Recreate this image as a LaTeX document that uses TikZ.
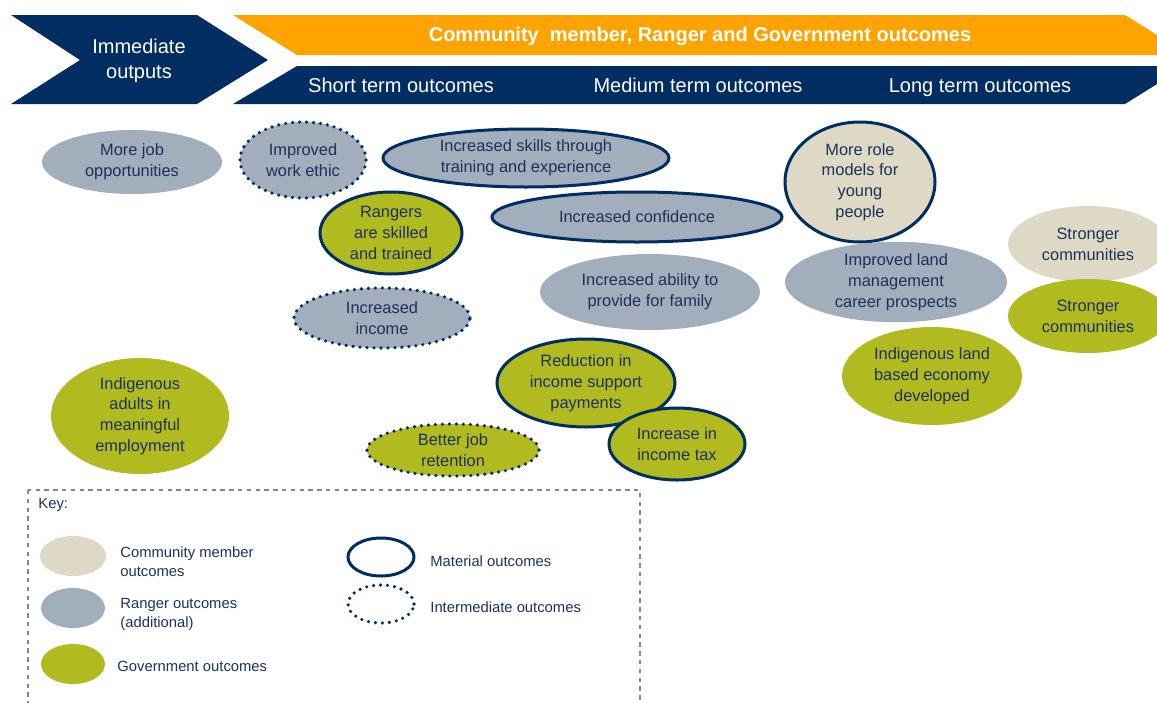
\documentclass[tikz,border=0pt]{standalone}
\usepackage{fontspec}
\setmainfont{Liberation Sans}
\usetikzlibrary{shapes.geometric}
\definecolor{navy}{RGB}{0,45,98}
\definecolor{orng}{RGB}{255,163,0}
\definecolor{grayb}{RGB}{163,174,189}
\definecolor{beige}{RGB}{221,217,196}
\definecolor{olive}{RGB}{177,186,30}
\definecolor{txt}{RGB}{28,50,90}
\definecolor{keyline}{RGB}{130,135,145}
\tikzset{
  ell/.style={ellipse, inner sep=0pt, align=center, text=txt, font=\fontsize{8.2}{10.4}\selectfont},
  gr/.style={fill=grayb},
  bg/.style={fill=beige},
  ol/.style={fill=olive},
  solidb/.style={draw=navy, line width=1.5pt},
  dotb/.style={draw=navy, line width=1.8pt, dash pattern=on 0pt off 3.5pt, line cap=round},
  hdr/.style={text=white, font=\fontsize{10}{12.5}\selectfont, align=center, inner sep=0pt},
  hdr1/.style={hdr, text height=7.2pt, text depth=2pt},
  keytxt/.style={text=txt, font=\fontsize{7.4}{9.5}\selectfont, align=left, anchor=west, inner sep=0pt},
}
\begin{document}
\begin{tikzpicture}[x=0.5pt,y=-0.5pt]
\useasboundingbox (0,0) rectangle (1157,702);
\clip (0,0) rectangle (1157,702);
% header
\fill[navy] (11,15) -- (197,15) -- (268,60) -- (197,104) -- (11,104) -- (80,60) -- cycle;
\fill[orng] (233,15) -- (1125,15) -- (1189,55) -- (297,55) -- cycle;
\fill[navy] (297,66) -- (1186,66) -- (1125,104) -- (233,104) -- cycle;
\node[hdr] (imm) at (139,61) {Immediate\\outputs};
\node[hdr1, font=\fontsize{10}{12}\selectfont\bfseries] (cm) at (700,36) {Community\ \ member, Ranger and Government outcomes};
\node[hdr1] (st) at (401,87) {Short term outcomes};
\node[hdr1] (mt) at (698,87) {Medium term outcomes};
\node[hdr1] (lt) at (980,87) {Long term outcomes};
% ellipses
\node[ell, gr, minimum width=90pt, minimum height=32pt] (e1) at (132,162) {More job\\opportunities};
\node[ell, gr, dotb, minimum width=63pt, minimum height=38pt] (e2) at (303,160) {Improved\\work ethic};
\node[ell, gr, solidb, minimum width=143pt, minimum height=29pt] (e3) at (526,158) {Increased skills through\\training and experience};
\node[ell, ol, solidb, minimum width=71pt, minimum height=41pt] (e4) at (391,233) {Rangers\\are skilled\\and trained};
\node[ell, gr, solidb, minimum width=145pt, minimum height=25pt] (e5) at (637,217) {Increased confidence};
\node[ell, bg, solidb, minimum width=75pt, minimum height=60pt] (e6) at (860,182) {More role\\models for\\young\\people};
\node[ell, bg, minimum width=80pt, minimum height=38pt] (e7) at (1088,244) {Stronger\\communities};
\node[ell, ol, minimum width=80pt, minimum height=37pt] (e8) at (1088,316) {Stronger\\communities};
\node[ell, gr, minimum width=111pt, minimum height=37pt] (e9) at (896,282) {Improved land\\management\\career prospects};
\node[ell, gr, minimum width=110pt, minimum height=38pt] (e10) at (650,292) {Increased ability to\\provide for family};
\node[ell, gr, dotb, minimum width=88pt, minimum height=30pt] (e11) at (382,318) {Increased\\income};
\node[ell, ol, minimum width=90pt, minimum height=49pt] (e12) at (932,376) {Indigenous land\\based economy\\developed};
\node[ell, ol, solidb, minimum width=89pt, minimum height=44pt] (e13) at (586,383) {Reduction in\\income support\\payments};
\node[ell, ol, solidb, minimum width=68pt, minimum height=36pt] (e14) at (677,444) {Increase in\\income tax};
\node[ell, ol, dotb, minimum width=86pt, minimum height=26pt] (e15) at (453,450) {Better job\\retention};
\node[ell, ol, minimum width=89pt, minimum height=58pt] (e16) at (140,416) {Indigenous\\adults in\\meaningful\\employment};
% key
\draw[keyline, line width=0.6pt, dash pattern=on 2.2pt off 2.2pt] (28,490) rectangle (640,720);
\node[keytxt] (keyt) at (38,505) {Key:};
\node[ellipse, bg, inner sep=0pt, minimum width=33pt, minimum height=20pt] (k1) at (73,556) {};
\node[ellipse, gr, inner sep=0pt, minimum width=32pt, minimum height=20pt] (k2) at (73,608) {};
\node[ellipse, ol, inner sep=0pt, minimum width=32pt, minimum height=20pt] (k3) at (73,664) {};
\node[keytxt] (k1t) at (120,562) {Community member\\outcomes};
\node[keytxt] (k2t) at (120,614) {Ranger outcomes\\(additional)};
\node[keytxt] (k3t) at (117,666) {Government outcomes};
\node[ellipse, solidb, inner sep=0pt, minimum width=33pt, minimum height=19pt] (k4) at (381,557) {};
\node[ellipse, dotb, inner sep=0pt, minimum width=33pt, minimum height=19pt] (k5) at (381,604) {};
\node[keytxt] (k4t) at (430,561) {Material outcomes};
\node[keytxt] (k5t) at (430,607) {Intermediate outcomes};
\end{tikzpicture}
\end{document}
